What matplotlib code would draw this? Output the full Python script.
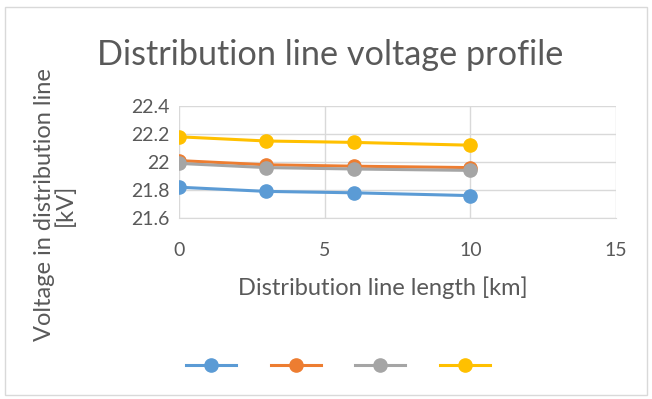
import matplotlib
matplotlib.use("Agg")
import matplotlib.pyplot as plt
from matplotlib.patches import Rectangle
from matplotlib.lines import Line2D

plt.rcParams['font.family'] = ['Lato', 'DejaVu Sans']

length_km = [0, 3, 6, 10]
series_1 = [21.82, 21.79, 21.78, 21.76]
series_2 = [22.01, 21.98, 21.97, 21.96]
series_3 = [21.99, 21.96, 21.95, 21.94]
series_4 = [22.18, 22.15, 22.14, 22.12]
colors = ['#5B9BD5', '#ED7D31', '#A5A5A5', '#FFC000']
x_ticks = [0, 5, 10, 15]
y_ticks = [21.6, 21.8, 22.0, 22.2, 22.4]
y_tick_labels = ['21.6', '21.8', '22', '22.2', '22.4']

W, H = 652, 399
fig = plt.figure(figsize=(W / 100, H / 100), dpi=100)
txt = '#595959'

# outer border
fig.patches.append(Rectangle((5 / W, 4 / H), 642 / W, 388 / H, transform=fig.transFigure,
                             fill=False, edgecolor='#D9D9D9', linewidth=1))

left, right, top, bottom = 179, 616, 106, 218
ax = fig.add_axes([left / W, 1 - bottom / H, (right - left) / W, (bottom - top) / H])

for vals, c in zip([series_1, series_2, series_3, series_4], colors):
    ax.plot(length_km, vals, color=c, linewidth=2.2, marker='o', markersize=9.5,
            solid_capstyle='round')

ax.set_xlim(0, 15)
ax.set_ylim(21.6, 22.4)
ax.set_xticks(x_ticks)
ax.set_yticks(y_ticks)
ax.set_yticklabels(y_tick_labels)
ax.grid(True, color='#D9D9D9', linewidth=1)
ax.set_axisbelow(True)
for s in ['top', 'right', 'left']:
    ax.spines[s].set_visible(False)
ax.spines['bottom'].set_color('#D9D9D9')
ax.tick_params(length=0, labelsize=14, colors=txt, pad=7)
ax.tick_params(axis='x', pad=17)

fig.text(383 / W, 1 - 288 / H, 'Distribution line length [km]', fontsize=17,
         color=txt, ha='center', va='center')
fig.text(55 / W, 1 - 205 / H, 'Voltage in distribution line\n[kV]', fontsize=17,
         color=txt, ha='center', va='center', rotation=90, multialignment='center',
         linespacing=1.0)

fig.text(97 / W, 1 - 55 / H, 'Distribution line voltage profile', fontsize=24.7,
         color=txt, ha='left', va='center')

handles = [Line2D([], [], color=c, linewidth=2.2, marker='o', markersize=9.5) for c in colors]
fig.legend(handles, ['', '', '', ''], ncol=4, loc='center',
           bbox_to_anchor=(338 / W, 1 - 366 / H), frameon=False,
           handlelength=3.6, columnspacing=2.5, handletextpad=0)

fig.savefig('out.png', dpi=100, facecolor='white')
